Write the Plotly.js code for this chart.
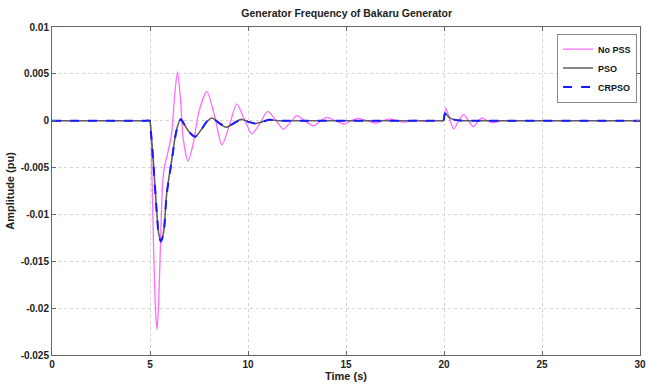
<!DOCTYPE html>
<html><head><meta charset="utf-8">
<script src="https://cdn.plot.ly/plotly-3.0.1.min.js"></script>
<style>html,body{margin:0;padding:0;background:#fff}#chart{width:648px;height:388px}</style>
</head><body><div id="chart"></div>
<script>
const tNoPSS = [0, 1, 2, 3, 4, 4.5, 4.8, 4.95, 5.0, 5.1, 5.2, 5.3, 5.36, 5.45, 5.55, 5.65, 5.75, 5.9, 6.1, 6.25, 6.4, 6.55, 6.7, 6.94, 7.2, 7.5, 7.9, 8.3, 8.67, 9.05, 9.43, 9.8, 10.2, 10.6, 11.0, 11.4, 11.8, 12.15, 12.5, 12.9, 13.35, 13.7, 14.05, 14.45, 14.9, 15.25, 15.65, 16.05, 16.5, 16.85, 17.2, 17.6, 18.0, 18.5, 19.0, 19.5, 19.8, 19.95, 20.0, 20.1, 20.25, 20.5, 20.75, 21.0, 21.25, 21.5, 21.75, 21.95, 22.2, 22.5, 23, 24, 25, 26, 27, 28, 29, 30];
const vNoPSS = [0, 0, 0, 0, 0, 0, 0, 0, 0, -0.006, -0.015, -0.021, -0.0223, -0.019, -0.012, -0.0065, -0.0048, -0.0035, -0.0014, 0.0025, 0.0052, 0.0025, -0.002, -0.0043, -0.0025, 0.001, 0.0031, 0.0005, -0.0026, -0.0005, 0.0018, 0.0002, -0.0014, -0.0003, 0.001, 0.0001, -0.0009, -0.0002, 0.00055, 0, -0.00055, 0, 0.00035, 0, -0.00035, 0, 0.00025, 0, -0.00027, 0, 0.0002, 0, -0.00015, 0.00005, -0.00005, 0, 0, 0, 0.0004, 0.00135, 0.0004, -0.0009, 0, 0.00064, 0, -0.00064, 0, 0.0003, 0, -0.0002, 0, 0, 0, 0, 0, 0, 0, 0];

const tPSO = [0, 1, 2, 3, 4, 4.5, 4.8, 4.98, 5.05, 5.17, 5.34, 5.45, 5.56, 5.7, 5.85, 6.1, 6.35, 6.57, 6.75, 7.0, 7.31, 7.6, 7.9, 8.16, 8.5, 8.89, 9.25, 9.65, 10.0, 10.35, 10.75, 11.1, 11.5, 12, 13, 14, 15, 16, 17, 18, 19, 19.5, 19.8, 19.97, 20.0, 20.05, 20.15, 20.3, 20.5, 20.8, 21.2, 21.6, 22, 23, 24, 25, 26, 27, 28, 29, 30];
const vPSO = [0, 0, 0, 0, 0, 0, 0, 0, -0.0012, -0.0043, -0.0096, -0.0121, -0.0128, -0.0118, -0.0078, -0.0043, -0.001, 0.00018, -0.0004, -0.0012, -0.0017, -0.0010, -0.0001, 0.00029, -0.0002, -0.0007, -0.0003, 0.00014, -0.0001, -0.0003, -0.0001, 0.0001, 0, 0, 0, 0, 0, 0, 0, 0, 0, 0, 0, 0, 0.0003, 0.00075, 0.0006, 0.0003, 0.00012, 0.00003, 0, 0, 0, 0, 0, 0, 0, 0, 0, 0, 0];

const tCRPSO = [0, 1, 2, 3, 4, 4.5, 4.8, 4.98, 5.05, 5.17, 5.34, 5.45, 5.56, 5.7, 5.85, 6.1, 6.35, 6.57, 6.75, 7.0, 7.31, 7.6, 7.9, 8.16, 8.5, 8.89, 9.25, 9.65, 10.0, 10.35, 10.75, 11.1, 11.5, 12, 13, 14, 15, 16, 17, 18, 19, 19.5, 19.8, 19.97, 20.0, 20.05, 20.15, 20.3, 20.5, 20.8, 21.2, 21.6, 22, 23, 24, 25, 26, 27, 28, 29, 30];
const vCRPSO = [0, 0, 0, 0, 0, 0, 0, 0, -0.0013, -0.0045, -0.0097, -0.0122, -0.0129, -0.0119, -0.0079, -0.0044, -0.0011, 0.00015, -0.0004, -0.0012, -0.0017, -0.0010, -0.0001, 0.00028, -0.0002, -0.0007, -0.0003, 0.00013, -0.0001, -0.0003, -0.0001, 0.0001, 0, 0, 0, 0, 0, 0, 0, 0, 0, 0, 0, 0, 0.0003, 0.0008, 0.0006, 0.0003, 0.00012, 0.00003, 0, 0, 0, 0, 0, 0, 0, 0, 0, 0, 0];

const xTicks = [0, 5, 10, 15, 20, 25, 30];
const yTicks = [0.01, 0.005, 0, -0.005, -0.01, -0.015, -0.02, -0.025];
const yTickText = ['0.01', '0.005', '0', '-0.005', '-0.01', '-0.015', '-0.02', '-0.025'];

const F = 'Liberation Sans, Arial, sans-serif';
const traces = [
  {x: tNoPSS, y: vNoPSS, name: 'No PSS', mode: 'lines', line: {color: '#ff6cff', width: 1.3, shape: 'spline', smoothing: 0.7}},
  {x: tPSO, y: vPSO, name: 'PSO', mode: 'lines', line: {color: '#606060', width: 1.6, shape: 'spline', smoothing: 0.7}},
  {x: tCRPSO, y: vCRPSO, name: 'CRPSO', mode: 'lines', line: {color: '#1a1aff', width: 2, dash: 'dash', shape: 'spline', smoothing: 0.7}}
];
const axisCommon = {
  showline: true, linecolor: '#666', linewidth: 1, mirror: 'ticks',
  ticks: 'inside', ticklen: 4, tickcolor: '#666',
  showgrid: true, gridcolor: '#d4d4d4', griddash: 'dot', gridwidth: 1,
  zeroline: false, tickfont: {family: F, size: 10, color: '#222', weight: 'bold'}
};
const layout = {
  width: 648, height: 388,
  margin: {l: 52, r: 8, t: 27, b: 33},
  paper_bgcolor: '#fff', plot_bgcolor: '#fff',
  title: {text: '<b>Generator Frequency of Bakaru Generator</b>', font: {family: F, size: 10.5, color: '#222'}, x: 0.535, xanchor: 'center', y: 0.965, yanchor: 'middle'},
  xaxis: Object.assign({}, axisCommon, {range: [0, 30], tickvals: xTicks, ticktext: xTicks.map(String),
    title: {text: '<b>Time (s)</b>', font: {family: F, size: 11, color: '#222'}, standoff: 3}}),
  yaxis: Object.assign({}, axisCommon, {range: [-0.025, 0.01], tickvals: yTicks, ticktext: yTickText,
    title: {text: '<b>Amplitude (pu)</b>', font: {family: F, size: 11, color: '#222'}, standoff: 3}}),
  legend: {x: 0.995, y: 0.98, xanchor: 'right', yanchor: 'top', bgcolor: '#fff', bordercolor: '#888', borderwidth: 1,
    font: {family: F, size: 9, color: '#111', weight: 'bold'}, itemwidth: 30, tracegroupgap: 0},
  showlegend: true
};
Plotly.newPlot('chart', traces, layout, {displayModeBar: false, staticPlot: true});
</script>
</body></html>
